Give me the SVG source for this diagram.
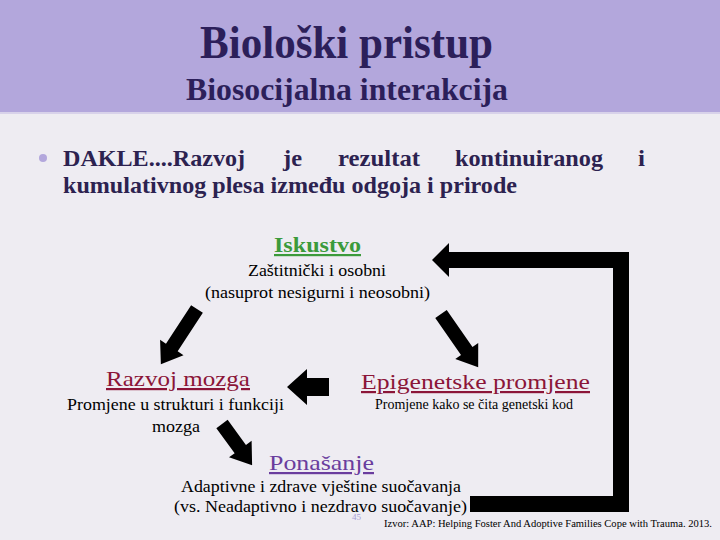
<svg xmlns="http://www.w3.org/2000/svg" width="720" height="540" viewBox="0 0 720 540">
<style>
  text { font-family: 'Liberation Serif', 'Times New Roman', serif; }
  .title { fill: #2c1f5a; font-weight: bold; }
  .body { fill: #2c2250; font-weight: bold; font-size: 24px; }
  .head { font-size: 22px; text-decoration: underline; }
  .desc { fill: #000; font-size: 17px; }
  .arrow { fill: #000; }
</style>
<rect x="0" y="0" width="720" height="540" fill="#eeecf2"/>
<rect x="0" y="0" width="720" height="113" fill="#b3a7dc"/>
<line x1="0" y1="113" x2="720" y2="113" stroke="#d8d2ea" stroke-width="2"/>

<g id="title">
  <text class="title" x="200" y="58" font-size="47" textLength="293" lengthAdjust="spacingAndGlyphs">Biološki pristup</text>
  <text class="title" x="186" y="100" font-size="32" textLength="322" lengthAdjust="spacingAndGlyphs">Biosocijalna interakcija</text>
</g>

<g id="bullet">
  <circle cx="43" cy="158" r="4" fill="#b3a7dc"/>
  <text class="body" y="166">
    <tspan x="63" textLength="182" lengthAdjust="spacingAndGlyphs">DAKLE....Razvoj</tspan>
    <tspan x="283" textLength="19" lengthAdjust="spacingAndGlyphs">je</tspan>
    <tspan x="338" textLength="82" lengthAdjust="spacingAndGlyphs">rezultat</tspan>
    <tspan x="455" textLength="148" lengthAdjust="spacingAndGlyphs">kontinuiranog</tspan>
    <tspan x="638" textLength="7" lengthAdjust="spacingAndGlyphs">i</tspan>
  </text>
  <text class="body" x="63" y="193" textLength="454" lengthAdjust="spacingAndGlyphs">kumulativnog plesa između odgoja i prirode</text>
</g>

<g id="iskustvo">
  <text class="head" x="274" y="252" fill="#3b9a3b" font-weight="bold" textLength="87" lengthAdjust="spacingAndGlyphs">Iskustvo</text>
  <text class="desc" x="248" y="276" textLength="138" lengthAdjust="spacingAndGlyphs">Zaštitnički i osobni</text>
  <text class="desc" x="205" y="298" textLength="225" lengthAdjust="spacingAndGlyphs">(nasuprot nesigurni i neosobni)</text>
</g>

<g id="razvoj-mozga">
  <text class="head" x="106" y="386" fill="#8b1538" textLength="144" lengthAdjust="spacingAndGlyphs">Razvoj mozga</text>
  <text class="desc" x="67" y="410" textLength="217" lengthAdjust="spacingAndGlyphs">Promjene u strukturi i funkciji</text>
  <text class="desc" x="152" y="432" textLength="48" lengthAdjust="spacingAndGlyphs">mozga</text>
</g>

<g id="epigenetske">
  <text class="head" x="361" y="389" fill="#8b1538" textLength="229" lengthAdjust="spacingAndGlyphs">Epigenetske promjene</text>
  <text x="375" y="409" font-size="14" fill="#000" textLength="198" lengthAdjust="spacingAndGlyphs">Promjene kako se čita genetski kod</text>
</g>

<g id="ponasanje">
  <text class="head" x="269" y="470" fill="#6a3d9e" textLength="105" lengthAdjust="spacingAndGlyphs">Ponašanje</text>
  <text class="desc" x="181" y="492" textLength="280" lengthAdjust="spacingAndGlyphs">Adaptivne i zdrave vještine suočavanja</text>
  <text class="desc" x="174" y="512" textLength="293" lengthAdjust="spacingAndGlyphs">(vs. Neadaptivno i nezdravo suočavanje)</text>
</g>

<g id="connectors">
  <polygon class="arrow" transform="translate(197,309) rotate(123.2)" points="0,-7 46,-7 46,-14 66,0 46,14 46,7 0,7"/>
  <polygon class="arrow" transform="translate(441,314) rotate(55.1)" points="0,-7 45,-7 45,-14 65,0 45,14 45,7 0,7"/>
  <polygon class="arrow" transform="translate(329,387) rotate(180)" points="0,-9 22,-9 22,-18 42,0 22,18 22,9 0,9"/>
  <polygon class="arrow" transform="translate(222,424) rotate(53.8)" points="0,-7 31,-7 31,-14 51,0 31,14 31,7 0,7"/>
  <path d="M470,504 H621 V260 H446" fill="none" stroke="#000" stroke-width="16" stroke-linejoin="miter"/>
  <polygon class="arrow" points="449,243 432,260 449,277"/>
</g>

<g id="footer">
  <text x="352" y="520" font-size="9" fill="#a89cd6">45</text>
  <text x="384" y="527" font-size="11" fill="#000" textLength="328" lengthAdjust="spacingAndGlyphs">Izvor: AAP: Helping Foster And Adoptive Families Cope with Trauma. 2013.</text>
</g>
</svg>
